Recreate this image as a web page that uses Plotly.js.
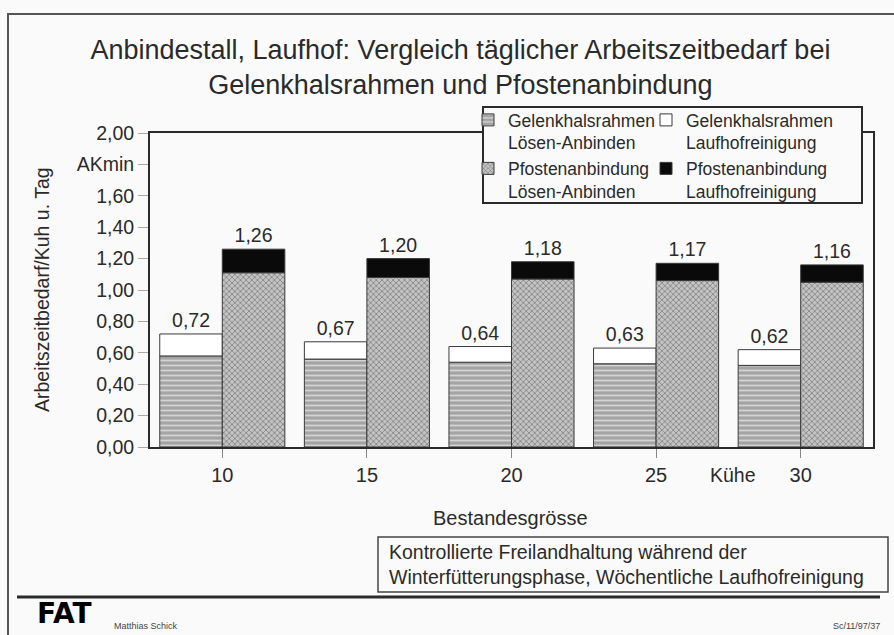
<!DOCTYPE html>
<html><head><meta charset="utf-8">
<script src="https://cdn.plot.ly/plotly-3.0.1.min.js"></script>
<style>html,body{margin:0;padding:0;background:#fafafa}#c{width:894px;height:635px}</style>
</head><body><div id="c"></div>
<script>
// Data
const categories = ['10', '15', '20', '25', '30'];
const gelenkLoesen = [0.58, 0.56, 0.54, 0.53, 0.52];
const gelenkTotal = [0.72, 0.67, 0.64, 0.63, 0.62];
const pfostenLoesen = [1.11, 1.08, 1.07, 1.06, 1.05];
const pfostenTotal = [1.26, 1.20, 1.18, 1.17, 1.16];
const yTickVals = [0, 0.2, 0.4, 0.6, 0.8, 1.0, 1.2, 1.4, 1.6, 1.8, 2.0];
const yTickText = ['0,00', '0,20', '0,40', '0,60', '0,80', '1,00', '1,20', '1,40', '1,60', 'AKmin', '2,00'];

const gelenkLauf = gelenkTotal.map((t, i) => +(t - gelenkLoesen[i]).toFixed(2));
const pfostenLauf = pfostenTotal.map((t, i) => +(t - pfostenLoesen[i]).toFixed(2));
const fmt = v => v.toFixed(2).replace('.', ',');

const FONT = 'Liberation Sans, Arial, Helvetica, sans-serif';
const TXT = '#2a2a2a';
const outline = {color: '#3a3a3a', width: 1};

const traces = [
  {type: 'bar', x: categories, y: gelenkLoesen, offsetgroup: 'g', legend: 'legend', legendgroup: 'a',
   name: 'Gelenkhalsrahmen<br>Lösen-Anbinden',
   marker: {color: '#a8a8a8', line: outline, pattern: {shape: '-', bgcolor: '#a4a4a4', fgcolor: '#d4d4d4', size: 5, solidity: 0.35}}},
  {type: 'bar', x: categories, y: gelenkLauf, base: gelenkLoesen, offsetgroup: 'g', legend: 'legend2', legendgroup: 'b',
   name: 'Gelenkhalsrahmen<br>Laufhofreinigung',
   text: gelenkTotal.map(fmt), textposition: 'outside', constraintext: 'none', cliponaxis: false,
   textfont: {size: 19.5, color: TXT, family: FONT},
   marker: {color: '#ffffff', line: outline}},
  {type: 'bar', x: categories, y: pfostenLoesen, offsetgroup: 'p', legend: 'legend', legendgroup: 'c',
   name: 'Pfostenanbindung<br>Lösen-Anbinden',
   marker: {color: '#b0b0b0', line: outline, pattern: {shape: 'x', bgcolor: '#c4c4c4', fgcolor: '#6e6e6e', size: 4, solidity: 0.3}}},
  {type: 'bar', x: categories, y: pfostenLauf, base: pfostenLoesen, offsetgroup: 'p', legend: 'legend2', legendgroup: 'd',
   name: 'Pfostenanbindung<br>Laufhofreinigung',
   text: pfostenTotal.map(fmt), textposition: 'outside', constraintext: 'none', cliponaxis: false,
   textfont: {size: 19.5, color: TXT, family: FONT},
   marker: {color: '#0a0a0a', line: outline}}
];

const L = 150, R = 21, T = 133, B = 188, W = 894, H = 635;
const pw = W - L - R, ph = H - T - B;
const px = x => (x - L) / pw;
const py = y => (H - B - y) / ph;

const legendCommon = {orientation: 'v', bgcolor: 'rgba(0,0,0,0)', borderwidth: 0, valign: 'top',
  font: {family: FONT, size: 17.5, color: TXT}, tracegroupgap: 0, itemwidth: 30,
  xanchor: 'left', yanchor: 'top', xref: 'paper', yref: 'paper'};

const layout = {
  width: W, height: H,
  margin: {l: L, r: R, t: T, b: B},
  paper_bgcolor: '#fafafa', plot_bgcolor: '#fafafa',
  font: {family: FONT, color: TXT, size: 18},
  barmode: 'group', bargap: 0.135, bargroupgap: 0,
  title: {text: 'Anbindestall, Laufhof: Vergleich täglicher Arbeitszeitbedarf bei<br>Gelenkhalsrahmen und Pfostenanbindung',
    x: 0.515, xanchor: 'center', y: 1 - 59 / H, yanchor: 'middle', yref: 'container',
    font: {family: FONT, size: 27, color: TXT}},
  xaxis: {type: 'category', showline: true, mirror: true, linecolor: '#2a2a2a', linewidth: 2,
    ticks: 'outside', ticklen: 9, tickcolor: '#888', tickfont: {size: 20, color: TXT},
    showgrid: false, zeroline: false, fixedrange: true},
  yaxis: {range: [0, 2], tickvals: yTickVals, ticktext: yTickText, showline: true, mirror: true,
    linecolor: '#2a2a2a', linewidth: 2, ticks: 'outside', ticklen: 10, tickcolor: '#aaa',
    tickfont: {size: 19.5, color: TXT}, showgrid: false, zeroline: false, fixedrange: true},
  legend: Object.assign({}, legendCommon, {x: px(468), y: py(102)}),
  legend2: Object.assign({}, legendCommon, {x: px(646), y: py(102)}),
  showlegend: true,
  shapes: [
    {type: 'rect', xref: 'paper', yref: 'paper', x0: px(8), x1: px(905), y0: py(650), y1: py(14),
     line: {color: '#555', width: 2}, fillcolor: 'rgba(0,0,0,0)', layer: 'below'},
    {type: 'rect', xref: 'paper', yref: 'paper', x0: px(483), x1: px(862), y0: py(203), y1: py(107),
     line: {color: '#2a2a2a', width: 2}, fillcolor: '#fafafa', layer: 'above'},
    {type: 'rect', xref: 'paper', yref: 'paper', x0: px(378), x1: px(888), y0: py(592), y1: py(537),
     line: {color: '#444', width: 1.5}, fillcolor: 'rgba(0,0,0,0)', layer: 'above'},
    {type: 'line', xref: 'paper', yref: 'paper', x0: px(17), x1: px(880), y0: py(597), y1: py(597),
     line: {color: '#2a2a2a', width: 3}}
  ],
  annotations: [
    {text: 'Arbeitszeitbedarf/Kuh u. Tag', textangle: -90, xref: 'paper', yref: 'paper',
     x: px(42), y: py(290), xanchor: 'center', yanchor: 'middle', showarrow: false, font: {size: 19.5}},
    {text: 'Bestandesgrösse', xref: 'paper', yref: 'paper', x: px(510), y: py(518),
     xanchor: 'center', yanchor: 'middle', showarrow: false, font: {size: 20}},
    {text: 'Kühe', xref: 'paper', yref: 'paper', x: px(733), y: py(475),
     xanchor: 'center', yanchor: 'middle', showarrow: false, font: {size: 19.5}},
    {text: 'Kontrollierte Freilandhaltung während der<br>Winterfütterungsphase, Wöchentliche Laufhofreinigung',
     xref: 'paper', yref: 'paper', x: px(387), y: py(564), xanchor: 'left', yanchor: 'middle',
     align: 'left', showarrow: false, font: {size: 19.5}},
    {text: '<b>FAT</b>', xref: 'paper', yref: 'paper', x: px(64), y: py(613), xanchor: 'center', yanchor: 'middle',
     showarrow: false, font: {size: 28, color: '#000', family: 'DejaVu Sans, sans-serif'}},
    {text: 'Matthias Schick', xref: 'paper', yref: 'paper', x: px(112), y: py(626), xanchor: 'left', yanchor: 'middle',
     showarrow: false, font: {size: 9, color: '#444'}},
    {text: 'Sc/11/97/37', xref: 'paper', yref: 'paper', x: px(882), y: py(626), xanchor: 'right', yanchor: 'middle',
     showarrow: false, font: {size: 9, color: '#444'}}
  ]
};

Plotly.newPlot('c', traces, layout, {displayModeBar: false, staticPlot: true});
</script></body></html>
